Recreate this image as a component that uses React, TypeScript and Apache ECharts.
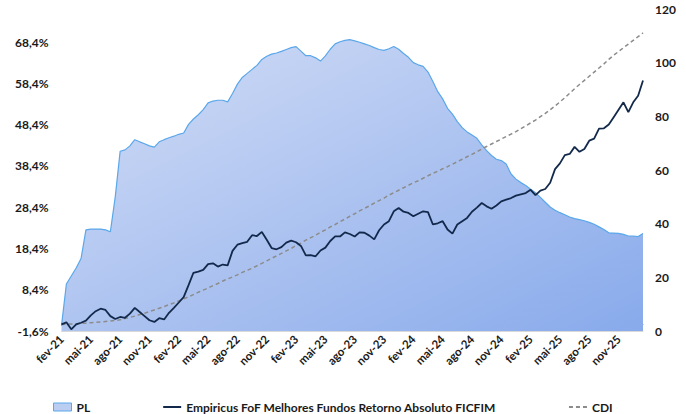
import React, { useEffect, useRef } from "react";
import * as echarts from "echarts";

// Semi-monthly observations, fev-21 .. jan-26
const monthNames = ["jan", "fev", "mar", "abr", "mai", "jun", "jul", "ago", "set", "out", "nov", "dez"];
const startYear = 2021;
const startMonthIndex = 1; // fev
const monthCount = 60;

const periods: string[] = [];
for (let m = 0; m < monthCount; m++) {
  const mi = startMonthIndex + m;
  const label = monthNames[mi % 12] + "-" + String(startYear + Math.floor(mi / 12)).slice(2);
  periods.push(label + " 1");
  periods.push(label + " 2");
}

// Empiricus FoF Melhores Fundos Retorno Absoluto FICFIM (% acumulado)
const fundReturn = [
  0.0, 0.5, -1.2, 0.0, 0.4, 0.9, 2.2, 3.2, 3.8, 3.5,
  2.0, 1.3, 1.8, 1.6, 2.6, 4.0, 3.0, 2.0, 1.0, 0.6,
  1.5, 1.2, 2.8, 4.0, 5.3, 6.6, 9.5, 12.5, 12.8, 13.2,
  14.6, 14.8, 14.0, 14.5, 14.3, 17.8, 19.3, 19.7, 20.0, 21.6,
  21.4, 22.4, 20.5, 18.5, 18.2, 18.7, 19.8, 20.3, 19.9, 19.0,
  16.7, 16.8, 16.5, 17.9, 18.6, 20.2, 21.3, 21.3, 22.3, 21.9,
  21.3, 22.3, 22.2, 21.5, 20.6, 22.8, 24.2, 25.0, 27.4, 28.2,
  27.3, 27.0, 26.2, 26.8, 27.4, 27.2, 24.2, 24.5, 25.0, 23.0,
  22.0, 24.2, 25.0, 25.8, 27.3, 28.3, 29.4, 28.6, 28.0, 28.8,
  29.8, 30.2, 30.6, 31.2, 31.5, 31.8, 32.6, 31.3, 32.4, 32.8,
  34.3, 37.6, 39.0, 41.0, 41.3, 43.0, 41.8, 42.5, 44.5, 45.0,
  47.4, 47.5, 48.4, 50.2, 52.0, 53.8, 51.4, 53.8, 55.4, 59.1,
];

// CDI (% acumulado)
const cdiReturn = [
  0.0, 0.05, 0.1, 0.15, 0.25, 0.3, 0.4, 0.5, 0.6, 0.7,
  0.8, 0.95, 1.1, 1.4, 1.7, 2.0, 2.4, 2.7, 3.1, 3.5,
  3.9, 4.3, 4.8, 5.2, 5.7, 6.2, 6.7, 7.2, 7.8, 8.3,
  8.8, 9.4, 9.9, 10.5, 11.0, 11.5, 12.0, 12.6, 13.1, 13.6,
  14.2, 14.8, 15.4, 16.0, 16.6, 17.2, 17.8, 18.4, 19.1, 19.7,
  20.4, 21.0, 21.6, 22.3, 22.9, 23.6, 24.2, 24.9, 25.5, 26.2,
  26.8, 27.5, 28.1, 28.7, 29.4, 30.0, 30.6, 31.3, 31.9, 32.5,
  33.1, 33.7, 34.3, 34.8, 35.4, 36.0, 36.6, 37.1, 37.7, 38.2,
  38.8, 39.4, 40.0, 40.6, 41.2, 41.8, 42.5, 43.1, 43.7, 44.3,
  44.9, 45.5, 46.1, 46.7, 47.4, 48.1, 48.8, 49.5, 50.3, 51.1,
  52.0, 52.9, 53.9, 54.9, 56.0, 57.1, 58.1, 59.1, 60.1, 61.1,
  62.1, 63.1, 64.2, 65.2, 66.1, 67.0, 67.9, 68.8, 69.7, 70.6,
];

// PL (R$ milhões, eixo direito)
const plValues = [
  2.0, 17.5, 20.5, 23.5, 27.0, 37.7, 38.0, 38.0, 38.0, 37.7,
  37.0, 50.0, 67.0, 67.5, 69.0, 71.3, 70.5, 69.8, 69.0, 68.5,
  70.5, 71.3, 72.0, 72.6, 73.3, 73.8, 77.0, 79.0, 80.6, 82.5,
  85.0, 85.7, 86.0, 86.0, 85.4, 88.5, 92.0, 94.5, 96.0, 97.5,
  99.0, 101.2, 102.4, 103.2, 103.6, 104.2, 104.9, 105.6, 106.0, 104.3,
  102.6, 102.6, 101.8, 100.6, 102.5, 105.0, 107.0, 107.8, 108.3, 108.6,
  108.1, 107.6, 107.0, 106.4, 105.6, 104.9, 104.6, 105.2, 106.0, 105.0,
  103.4, 102.0, 100.0, 99.2, 98.6, 96.5, 93.0, 89.2, 86.5, 83.0,
  80.8, 78.0, 75.8, 74.2, 73.0, 71.8, 69.4, 67.2, 65.4, 64.0,
  63.5, 62.2, 58.5, 56.6, 55.3, 54.2, 52.8, 51.5, 49.8, 48.0,
  46.2, 45.0, 44.1, 43.3, 42.5, 41.9, 41.5, 41.1, 40.5, 39.8,
  38.8, 37.8, 36.6, 36.5, 36.4, 36.0, 35.4, 35.4, 35.2, 36.3,
];

const seriesNames = ["PL", "Empiricus FoF Melhores Fundos Retorno Absoluto FICFIM", "CDI"];

const leftAxis = { min: -1.6, max: 76.4, interval: 10 };
const rightAxis = { min: 0, max: 120, interval: 20 };

const FONT = "Lato";
const TEXT_COLOR = "#1a1a1a";

export default function App() {
  const ref = useRef<HTMLDivElement>(null);

  useEffect(() => {
    if (!ref.current) return;
    const chart = echarts.init(ref.current, undefined, { renderer: "svg" });
    const plGradient = new echarts.graphic.LinearGradient(0, 0, 1, 1, [
      { offset: 0, color: "#d4def6" },
      { offset: 1, color: "#88aaeb" },
    ]);
    chart.setOption({
      animation: false,
      textStyle: { fontFamily: FONT },
      grid: { left: 61.5, right: 43, top: 9, bottom: 83, containLabel: false },
      legend: {
        left: 48,
        top: 396,
        itemGap: 72,
        itemWidth: 18,
        itemHeight: 8,
        textStyle: { fontFamily: FONT, fontWeight: "bold", fontSize: 12, color: TEXT_COLOR },
        data: [
          {
            name: seriesNames[0],
            icon: "rect",
            itemStyle: { color: "#bccdf2", borderColor: "#5aa7ea", borderWidth: 1 },
          },
          { name: seriesNames[1], itemStyle: { opacity: 0 } },
          { name: seriesNames[2], itemStyle: { opacity: 0 } },
        ],
      },
      xAxis: [
        {
          type: "category",
          data: periods,
          boundaryGap: false,
          position: "bottom",
          axisLine: { show: true, lineStyle: { color: "#5aa7ea", width: 1 } },
          axisTick: { show: false },
          splitLine: { show: false },
          axisLabel: {
            rotate: 45,
            margin: 6,
            interval: (index: number) => index % 6 === 0,
            formatter: (v: string) => v.split(" ")[0],
            fontFamily: FONT,
            fontWeight: "bold",
            fontSize: 11.5,
            color: TEXT_COLOR,
          },
        },
        {
          type: "category",
          data: periods,
          boundaryGap: false,
          position: "top",
          axisLine: { show: true, lineStyle: { color: "#d9d9d9", width: 1 } },
          axisTick: { show: false },
          axisLabel: { show: false },
          splitLine: { show: false },
        },
      ],
      yAxis: [
        {
          type: "value",
          min: leftAxis.min,
          max: leftAxis.max,
          interval: leftAxis.interval,
          position: "left",
          splitLine: { show: false },
          axisLine: { show: false },
          axisTick: { show: false },
          axisLabel: {
            showMaxLabel: false,
            margin: 13,
            formatter: (v: number) => v.toFixed(1).replace(".", ",") + "%",
            fontFamily: FONT,
            fontWeight: "bold",
            fontSize: 12,
            color: TEXT_COLOR,
          },
        },
        {
          type: "value",
          min: rightAxis.min,
          max: rightAxis.max,
          interval: rightAxis.interval,
          position: "right",
          splitLine: { show: false },
          axisLine: { show: false },
          axisTick: { show: false },
          axisLabel: {
            margin: 12,
            fontFamily: FONT,
            fontWeight: "bold",
            fontSize: 12,
            color: TEXT_COLOR,
          },
        },
      ],
      series: [
        {
          name: seriesNames[0],
          type: "line",
          yAxisIndex: 1,
          data: plValues,
          symbol: "none",
          lineStyle: { color: "#5aa7ea", width: 1.2 },
          itemStyle: { color: "#bccdf2" },
          areaStyle: { color: plGradient, opacity: 1 },
          z: 1,
        },
        {
          name: seriesNames[1],
          type: "line",
          yAxisIndex: 0,
          data: fundReturn,
          symbol: "none",
          lineStyle: { color: "#13294b", width: 1.8 },
          itemStyle: { color: "#13294b" },
          z: 3,
        },
        {
          name: seriesNames[2],
          type: "line",
          yAxisIndex: 0,
          data: cdiReturn,
          symbol: "none",
          lineStyle: { color: "#8c8c8c", width: 1.5, type: [4, 3] },
          itemStyle: { color: "#8c8c8c" },
          z: 2,
        },
      ],
    });
    return () => chart.dispose();
  }, []);

  return (
    <div
      ref={ref}
      style={{ position: "absolute", left: 0, top: 0, width: 686, height: 414, background: "#ffffff" }}
    />
  );
}
